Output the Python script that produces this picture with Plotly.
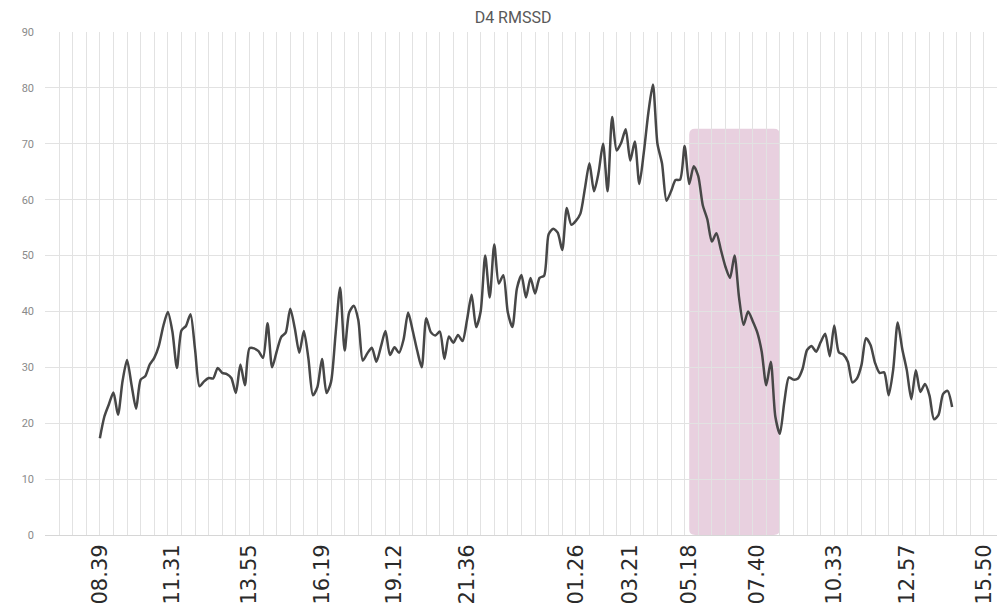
import plotly.graph_objects as go

# RMSSD samples (ms), one value per reading
rmssd = [
    17.3, 21.2, 23.4, 25.5, 21.5, 27.5, 31.3, 26.8, 22.6, 27.8,
    28.4, 30.5, 31.7, 33.8, 37.4, 39.9, 36.4, 29.9, 36.6, 37.4,
    39.5, 33.2, 26.6, 27.5, 28.1, 28.0, 29.9, 29.0, 28.8, 28.1,
    25.4, 30.5, 26.8, 33.4, 33.4, 32.9, 31.7, 37.9, 30.0, 32.8,
    35.4, 36.2, 40.5, 37.0, 32.6, 36.5, 31.6, 25.0, 26.5, 31.5,
    25.4, 27.4, 36.0, 44.3, 33.0, 39.8, 41.0, 38.5, 31.2, 32.5,
    33.5, 31.0, 33.7, 36.5, 32.2, 33.6, 32.6, 35.0, 39.8, 36.6,
    33.0, 30.0, 38.8, 36.3, 35.7, 36.4, 31.5, 35.5, 34.4, 35.8,
    34.7, 38.5, 43.0, 37.2, 40.0, 50.0, 42.5, 52.0, 45.0, 46.5,
    39.8, 37.2, 44.1, 46.5, 42.5, 46.0, 43.2, 46.0, 46.4, 53.8,
    54.8, 54.1, 51.0, 58.5, 55.5, 56.2, 57.5, 62.0, 66.5, 61.5,
    64.8, 70.0, 61.5, 74.8, 68.8, 70.2, 72.6, 67.0, 70.4, 62.8,
    68.5, 75.6, 80.6, 70.0, 66.5, 59.8, 61.5, 63.5, 63.6, 69.6,
    62.8, 66.0, 64.2, 59.0, 56.5, 52.5, 54.0, 51.0, 48.0, 46.0,
    50.0, 42.5, 37.6, 40.0, 38.3, 36.3, 32.8, 26.8, 31.0, 21.2,
    18.1, 23.9, 28.2, 27.8, 28.0, 29.7, 33.1, 33.8, 32.8, 34.5,
    36.0, 32.0, 37.5, 32.7, 32.3, 31.0, 27.3, 28.0, 30.4, 35.2,
    34.0, 30.8, 29.0, 29.1, 25.0, 29.6, 38.0, 33.3, 29.5, 24.3,
    29.5, 25.6, 27.0, 25.0, 20.7, 21.5, 25.2, 25.8, 22.9,
]
sample_idx = list(range(len(rmssd)))

# clock-time labels and the sample index each one belongs to
tick_text = ["08.39", "11.31", "13.55", "16.19", "19.12", "21.36", "01.26",
             "03.21", "05.18", "07.40", "10.33", "12.57", "15.50"]
tick_idx = [0, 16, 33, 49, 65, 81, 105, 117, 130, 145, 162, 178, 195]

# highlighted window (sample indices) and its height
hl_start, hl_end, hl_top = 130, 150, 72.7

X_RANGE = [-12.1, 197.9]
Y_RANGE = [0, 90]

fig = go.Figure()

fig.add_trace(go.Scatter(
    x=sample_idx, y=rmssd, mode="lines",
    line=dict(color="#474747", width=2.5, shape="spline", smoothing=0.7),
    showlegend=False, hoverinfo="y",
))
# carrier trace for the label axis
fig.add_trace(go.Scatter(
    x=[tick_idx[0]], y=[None], xaxis="x2", mode="lines",
    showlegend=False, hoverinfo="skip",
))

# rounded highlight band, corner radius expressed in axis units
rx, ry = 1.3, 1.07
x0, x1, y0, y1 = hl_start, hl_end, Y_RANGE[0], hl_top
path = (f"M {x0+rx},{y0} L {x1-rx},{y0} Q {x1},{y0} {x1},{y0+ry} "
        f"L {x1},{y1-ry} Q {x1},{y1} {x1-rx},{y1} L {x0+rx},{y1} "
        f"Q {x0},{y1} {x0},{y1-ry} L {x0},{y0+ry} Q {x0},{y0} {x0+rx},{y0} Z")
fig.add_shape(type="path", path=path, xref="x", yref="y",
              fillcolor="rgba(205,150,185,0.45)", line=dict(width=0),
              layer="below")

fig.update_layout(
    width=1004, height=612,
    margin=dict(l=45, r=7, t=32, b=73),
    paper_bgcolor="white", plot_bgcolor="white",
    title=dict(text="D4 RMSSD", x=0.511, xanchor="center",
               y=0.971, yanchor="middle",
               font=dict(family="Roboto", size=16, color="#595959")),
    xaxis=dict(
        range=X_RANGE, tick0=0, dtick=3, showticklabels=False,
        showgrid=True, gridcolor="#e2e2e2", gridwidth=1,
        zeroline=False, showline=False, ticks="",
    ),
    xaxis2=dict(
        range=X_RANGE, overlaying="x", side="bottom",
        tickmode="array", tickvals=tick_idx, ticktext=tick_text,
        tickangle=-90, ticks="", showgrid=False, zeroline=False,
        showline=True, linecolor="#d6d6d6", linewidth=1,
        tickfont=dict(family="DejaVu Sans", size=21, color="#2a2a2a"),
    ),
    yaxis=dict(
        range=Y_RANGE, dtick=10, showgrid=True, gridcolor="#e2e2e2",
        zeroline=False, showline=False, ticks="",
        tickfont=dict(family="Roboto", size=11, color="#8a8a8a"),
        ticklabelstandoff=10,
    ),
)

fig.write_html("out.html")
